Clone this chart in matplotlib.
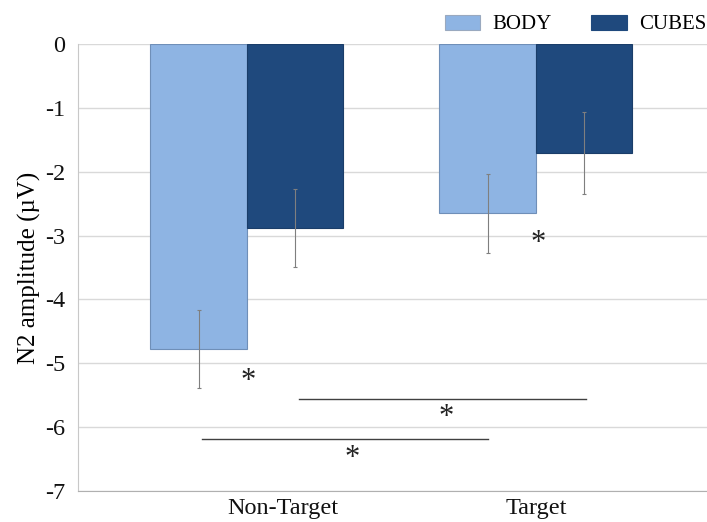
import matplotlib
matplotlib.use("Agg")
from matplotlib import pyplot as plt
from matplotlib.patches import Patch

plt.rcParams['font.family'] = ['Liberation Serif', 'DejaVu Serif']
plt.rcParams['axes.unicode_minus'] = False

# group positions and bar values (µV)
groups = ["Non-Target", "Target"]
group_pos = [0.0, 1.0]
label_pos = [0.125, 1.0]
body = [-4.78, -2.65]
cubes = [-2.88, -1.71]
body_err = [0.61, 0.62]
cubes_err = [0.61, 0.64]

# significance brackets: (x start, x end, y) and star positions
brackets = [(0.18, 1.173, -5.56), (-0.156, 0.834, -6.19)]
stars = [(0.003, -5.15), (1.007, -2.99), (0.689, -5.72), (0.363, -6.36)]

body_col = "#8EB4E3"
cubes_col = "#1F497D"
w = 0.334

fig = plt.figure(figsize=(7.07, 5.22), dpi=100)
ax = fig.add_axes([0.110, 0.0594, 0.89, 0.8563])

for y in range(-7, 1):
    ax.axhline(y, color="#d9d9d9", lw=1, zorder=0)

xb = [p - w / 2 for p in group_pos]
xc = [p + w / 2 for p in group_pos]
ax.bar(xb, body, w, color=body_col, edgecolor="#6f8fb8", lw=0.8, zorder=2)
ax.bar(xc, cubes, w, color=cubes_col, edgecolor="#1a3d69", lw=0.8, zorder=2)
ax.errorbar(xb, body, yerr=body_err, fmt="none", ecolor="#7f7f7f", elinewidth=0.8,
            capsize=1.5, capthick=0.8, zorder=3)
ax.errorbar(xc, cubes, yerr=cubes_err, fmt="none", ecolor="#7f7f7f", elinewidth=0.8,
            capsize=1.5, capthick=0.8, zorder=3)

for x0, x1, y in brackets:
    ax.plot([x0, x1], [y, y], color="#404040", lw=1, zorder=3)
for x, y in stars:
    ax.annotate("*", (x, y), xytext=(0, -6), textcoords="offset points",
                ha="center", va="center", fontsize=22, color="#222222")

ax.set_xlim(-0.585, 1.592)
ax.set_ylim(-7, 0)
ax.set_yticks(range(-7, 1))
ax.set_xticks(label_pos)
ax.set_xticklabels(groups)
ax.tick_params(axis="both", length=0, labelsize=17.5, colors="#111111")
ax.tick_params(axis="y", pad=9)
ax.tick_params(axis="x", pad=5)
ax.set_ylabel("N2 amplitude (µV)", fontsize=18, labelpad=3)

for s in ["top", "right"]:
    ax.spines[s].set_visible(False)
ax.spines["left"].set_color("#c8c8c8")
ax.spines["bottom"].set_color("#b0b0b0")

handles = [Patch(facecolor=body_col, edgecolor="#9aa9bf", lw=0.8),
           Patch(facecolor=cubes_col, edgecolor=cubes_col, lw=0.8)]
fig.legend(handles, ["BODY", "CUBES"], loc="upper right", bbox_to_anchor=(1.026, 1.008),
           ncol=2, frameon=False, fontsize=15, handlelength=1.7, handleheight=0.75,
           handletextpad=0.6, columnspacing=1.9)

fig.savefig("out.png", dpi=100)
